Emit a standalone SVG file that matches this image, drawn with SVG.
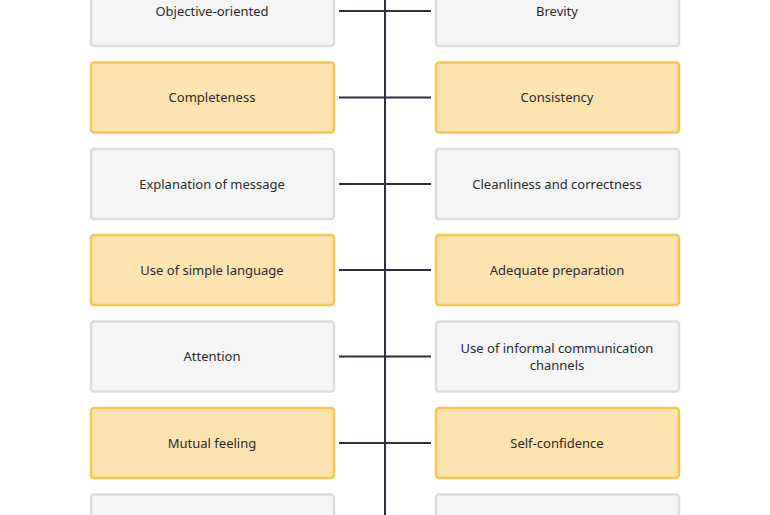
<svg xmlns="http://www.w3.org/2000/svg" width="770" height="515" viewBox="0 0 770 515">
<style>
.g rect{fill:#f5f5f5;stroke:#dcdcdc;stroke-width:2.5}
.y rect{fill:#fce3b0;stroke:#f9c54a;stroke-width:2.5}
text{font-family:"Noto Sans","Liberation Sans",sans-serif;font-size:13px;fill:#2a2a2a;text-anchor:middle}
.c line{stroke:#2b3140;stroke-width:2}
</style>
<rect width="770" height="515" fill="#fff"/>
<g class="c">
<line x1="385" y1="0" x2="385" y2="515"/>
<line x1="339" y1="11" x2="431" y2="11"/>
<line x1="339" y1="97.5" x2="431" y2="97.5"/>
<line x1="339" y1="184" x2="431" y2="184"/>
<line x1="339" y1="270" x2="431" y2="270"/>
<line x1="339" y1="356.5" x2="431" y2="356.5"/>
<line x1="339" y1="443" x2="431" y2="443"/>
</g>
<g id="n1" class="g"><rect x="91" y="-24" width="243" height="70" rx="3"/><text x="212" y="16">Objective-oriented</text></g>
<g id="n2" class="g"><rect x="436" y="-24" width="243" height="70" rx="3"/><text x="557" y="16">Brevity</text></g>
<g id="n3" class="y"><rect x="91" y="62.5" width="243" height="70" rx="3"/><text x="212" y="102">Completeness</text></g>
<g id="n4" class="y"><rect x="436" y="62.5" width="243" height="70" rx="3"/><text x="557" y="102">Consistency</text></g>
<g id="n5" class="g"><rect x="91" y="149" width="243" height="70" rx="3"/><text x="212" y="188.5">Explanation of message</text></g>
<g id="n6" class="g"><rect x="436" y="149" width="243" height="70" rx="3"/><text x="557" y="188.5">Cleanliness and correctness</text></g>
<g id="n7" class="y"><rect x="91" y="235" width="243" height="70" rx="3"/><text x="212" y="274.5">Use of simple language</text></g>
<g id="n8" class="y"><rect x="436" y="235" width="243" height="70" rx="3"/><text x="557" y="274.5">Adequate preparation</text></g>
<g id="n9" class="g"><rect x="91" y="321.5" width="243" height="70" rx="3"/><text x="212" y="361">Attention</text></g>
<g id="n10" class="g"><rect x="436" y="321.5" width="243" height="70" rx="3"/><text x="557" y="352.5">Use of informal communication</text><text x="557" y="369.5">channels</text></g>
<g id="n11" class="y"><rect x="91" y="408" width="243" height="70" rx="3"/><text x="212" y="447.5">Mutual feeling</text></g>
<g id="n12" class="y"><rect x="436" y="408" width="243" height="70" rx="3"/><text x="557" y="447.5">Self-confidence</text></g>
<g id="n13" class="g"><rect x="91" y="494.5" width="243" height="70" rx="3"/></g>
<g id="n14" class="g"><rect x="436" y="494.5" width="243" height="70" rx="3"/></g>
</svg>
